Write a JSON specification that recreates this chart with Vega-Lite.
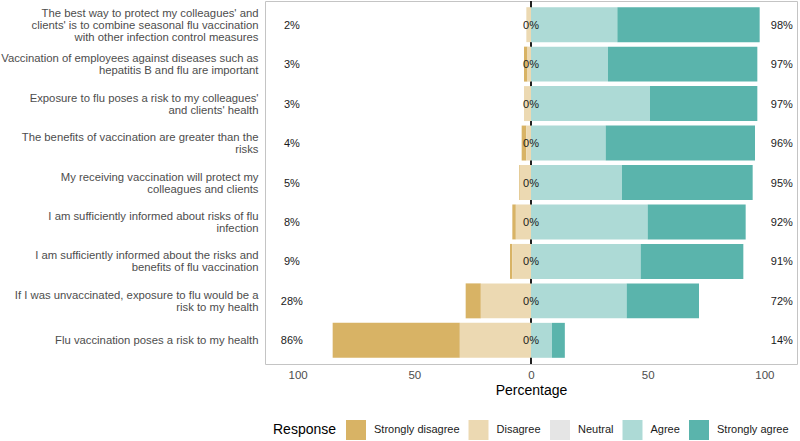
{
  "$schema": "https://vega.github.io/schema/vega-lite/v6.json",
  "autosize": "none",
  "width": 532,
  "height": 363,
  "padding": {"left": 265, "top": 1, "right": 3, "bottom": 77},
  "background": "white",
  "config": {
    "font": "Liberation Sans",
    "view": {"stroke": "#c4c4c4", "strokeWidth": 1}
  },
  "datasets": {
    "bars": [
      {"item": "The best way to protect my colleagues' and|clients' is to combine seasonal flu vaccination|with other infection control measures", "response": "Strongly disagree", "value": 0},
      {"item": "The best way to protect my colleagues' and|clients' is to combine seasonal flu vaccination|with other infection control measures", "response": "Disagree", "value": -2},
      {"item": "The best way to protect my colleagues' and|clients' is to combine seasonal flu vaccination|with other infection control measures", "response": "Agree", "value": 37},
      {"item": "The best way to protect my colleagues' and|clients' is to combine seasonal flu vaccination|with other infection control measures", "response": "Strongly agree", "value": 61},
      {"item": "Vaccination of employees against diseases such as|hepatitis B and flu are important", "response": "Strongly disagree", "value": -1.5},
      {"item": "Vaccination of employees against diseases such as|hepatitis B and flu are important", "response": "Disagree", "value": -1.5},
      {"item": "Vaccination of employees against diseases such as|hepatitis B and flu are important", "response": "Agree", "value": 33},
      {"item": "Vaccination of employees against diseases such as|hepatitis B and flu are important", "response": "Strongly agree", "value": 64},
      {"item": "Exposure to flu poses a risk to my colleagues'|and clients' health", "response": "Strongly disagree", "value": 0},
      {"item": "Exposure to flu poses a risk to my colleagues'|and clients' health", "response": "Disagree", "value": -3},
      {"item": "Exposure to flu poses a risk to my colleagues'|and clients' health", "response": "Agree", "value": 51},
      {"item": "Exposure to flu poses a risk to my colleagues'|and clients' health", "response": "Strongly agree", "value": 46},
      {"item": "The benefits of vaccination are greater than the|risks", "response": "Strongly disagree", "value": -2},
      {"item": "The benefits of vaccination are greater than the|risks", "response": "Disagree", "value": -2},
      {"item": "The benefits of vaccination are greater than the|risks", "response": "Agree", "value": 32},
      {"item": "The benefits of vaccination are greater than the|risks", "response": "Strongly agree", "value": 64},
      {"item": "My receiving vaccination will protect my|colleagues and clients", "response": "Strongly disagree", "value": -0.5},
      {"item": "My receiving vaccination will protect my|colleagues and clients", "response": "Disagree", "value": -4.5},
      {"item": "My receiving vaccination will protect my|colleagues and clients", "response": "Agree", "value": 39},
      {"item": "My receiving vaccination will protect my|colleagues and clients", "response": "Strongly agree", "value": 56},
      {"item": "I am sufficiently informed about risks of flu|infection", "response": "Strongly disagree", "value": -1.5},
      {"item": "I am sufficiently informed about risks of flu|infection", "response": "Disagree", "value": -6.5},
      {"item": "I am sufficiently informed about risks of flu|infection", "response": "Agree", "value": 50},
      {"item": "I am sufficiently informed about risks of flu|infection", "response": "Strongly agree", "value": 42},
      {"item": "I am sufficiently informed about the risks and|benefits of flu vaccination", "response": "Strongly disagree", "value": -1},
      {"item": "I am sufficiently informed about the risks and|benefits of flu vaccination", "response": "Disagree", "value": -8},
      {"item": "I am sufficiently informed about the risks and|benefits of flu vaccination", "response": "Agree", "value": 47},
      {"item": "I am sufficiently informed about the risks and|benefits of flu vaccination", "response": "Strongly agree", "value": 44},
      {"item": "If I was unvaccinated, exposure to flu would be a|risk to my health", "response": "Strongly disagree", "value": -6.5},
      {"item": "If I was unvaccinated, exposure to flu would be a|risk to my health", "response": "Disagree", "value": -21.5},
      {"item": "If I was unvaccinated, exposure to flu would be a|risk to my health", "response": "Agree", "value": 41},
      {"item": "If I was unvaccinated, exposure to flu would be a|risk to my health", "response": "Strongly agree", "value": 31},
      {"item": "Flu vaccination poses a risk to my health", "response": "Strongly disagree", "value": -54.5},
      {"item": "Flu vaccination poses a risk to my health", "response": "Disagree", "value": -30.5},
      {"item": "Flu vaccination poses a risk to my health", "response": "Agree", "value": 9},
      {"item": "Flu vaccination poses a risk to my health", "response": "Strongly agree", "value": 5.5}
    ],
    "labels": [
      {"item": "The best way to protect my colleagues' and|clients' is to combine seasonal flu vaccination|with other infection control measures", "neg": "2%", "neu": "0%", "pos": "98%"},
      {"item": "Vaccination of employees against diseases such as|hepatitis B and flu are important", "neg": "3%", "neu": "0%", "pos": "97%"},
      {"item": "Exposure to flu poses a risk to my colleagues'|and clients' health", "neg": "3%", "neu": "0%", "pos": "97%"},
      {"item": "The benefits of vaccination are greater than the|risks", "neg": "4%", "neu": "0%", "pos": "96%"},
      {"item": "My receiving vaccination will protect my|colleagues and clients", "neg": "5%", "neu": "0%", "pos": "95%"},
      {"item": "I am sufficiently informed about risks of flu|infection", "neg": "8%", "neu": "0%", "pos": "92%"},
      {"item": "I am sufficiently informed about the risks and|benefits of flu vaccination", "neg": "9%", "neu": "0%", "pos": "91%"},
      {"item": "If I was unvaccinated, exposure to flu would be a|risk to my health", "neg": "28%", "neu": "0%", "pos": "72%"},
      {"item": "Flu vaccination poses a risk to my health", "neg": "86%", "neu": "0%", "pos": "14%"}
    ]
  },
  "encoding": {
    "y": {
      "field": "item",
      "type": "nominal",
      "sort": null,
      "scale": {"paddingInner": 0.114, "paddingOuter": 0.157},
      "axis": {
        "title": null,
        "labelExpr": "split(datum.label, '|')",
        "labelFontSize": 11.3,
        "labelLineHeight": 12,
        "labelColor": "#4d4d4d",
        "labelPadding": 7,
        "labelLimit": 300,
        "labelOffset": {
          "condition": [
            {"test": "length(split(datum.value, '|')) == 3", "value": -11},
            {"test": "length(split(datum.value, '|')) == 2", "value": -5}
          ],
          "value": 1
        },
        "ticks": false,
        "domain": false,
        "grid": false
      }
    }
  },
  "layer": [
    {
      "data": {"name": "labels"},
      "mark": {"type": "rule", "color": "#222222", "strokeWidth": 1.4},
      "encoding": {
        "y": null,
        "x": {"datum": 0, "type": "quantitative"}
      }
    },
    {
      "data": {"name": "bars"},
      "mark": {"type": "bar"},
      "encoding": {
        "x": {
          "field": "value",
          "type": "quantitative",
          "stack": "zero",
          "scale": {"domain": [-114, 114], "nice": false, "zero": false},
          "axis": {
            "values": [-100, -50, 0, 50, 100],
            "labelExpr": "abs(datum.value)",
            "title": "Percentage",
            "titleFontSize": 14,
            "titleFontWeight": "normal",
            "titleColor": "#000000",
            "titlePadding": 3,
            "labelFontSize": 11.5,
            "labelColor": "#4d4d4d",
            "labelPadding": 5,
            "ticks": false,
            "domain": false,
            "grid": false
          }
        },
        "color": {
          "field": "response",
          "type": "nominal",
          "scale": {
            "domain": ["Strongly disagree", "Disagree", "Neutral", "Agree", "Strongly agree"],
            "range": ["#d8b365", "#ecd9b2", "#e5e5e5", "#addad6", "#5ab4ac"]
          },
          "legend": {
            "title": "Response",
            "orient": "none",
            "direction": "horizontal",
            "legendX": 8,
            "legendY": 419,
            "titleOrient": "left",
            "titleFontSize": 14,
            "titleFontWeight": "normal",
            "titleColor": "#000000",
            "titlePadding": 9,
            "symbolType": "square",
            "symbolSize": 400,
            "symbolStrokeWidth": 0,
            "symbolOpacity": 1,
            "labelFontSize": 11,
            "labelColor": "#1a1a1a",
            "labelOffset": 8,
            "columnPadding": 8.5
          }
        },
        "order": {"field": "response", "sort": "ascending"}
      }
    },
    {
      "data": {"name": "labels"},
      "mark": {"type": "text", "fontSize": 11, "color": "#1a1a1a", "dy": 1},
      "encoding": {
        "x": {"datum": -102.5, "type": "quantitative"},
        "text": {"field": "neg"}
      }
    },
    {
      "data": {"name": "labels"},
      "mark": {"type": "text", "fontSize": 11, "color": "#1a1a1a", "dy": 1},
      "encoding": {
        "x": {"datum": 0, "type": "quantitative"},
        "text": {"field": "neu"}
      }
    },
    {
      "data": {"name": "labels"},
      "mark": {"type": "text", "fontSize": 11, "color": "#1a1a1a", "dy": 1},
      "encoding": {
        "x": {"datum": 107.5, "type": "quantitative"},
        "text": {"field": "pos"}
      }
    }
  ]
}
